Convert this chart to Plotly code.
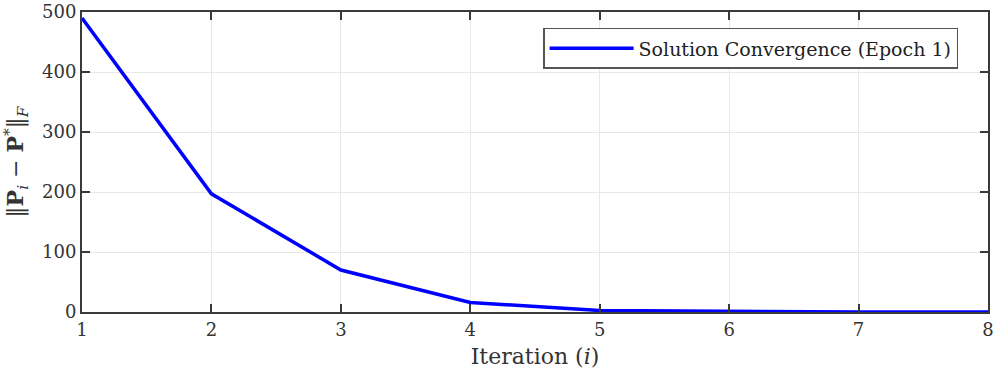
import plotly.graph_objs as go

# Iteration index and Frobenius-norm distance to the solution
iterations = [1, 2, 3, 4, 5, 6, 7, 8]
residual = [490, 197, 70, 16, 2.5, 0.6, 0.15, 0.03]
x_ticks = [1, 2, 3, 4, 5, 6, 7, 8]
y_ticks = [0, 100, 200, 300, 400, 500]

trace = go.Scatter(x=iterations, y=residual, mode='lines',
                   name='Solution Convergence (Epoch 1)',
                   line=dict(color='#0000ff', width=3.5))

axis_style = dict(showline=True, linecolor='#3a3a3a', linewidth=2, mirror='ticks',
                  ticks='inside', ticklen=8, tickwidth=1.5, tickcolor='#3a3a3a',
                  showgrid=True, gridcolor='#e8e8e8', gridwidth=1,
                  zeroline=False, automargin=False,
                  tickfont=dict(size=18, color='#333333'))

layout = go.Layout(
    width=996, height=384,
    paper_bgcolor='white', plot_bgcolor='white',
    font=dict(family='DejaVu Serif, Liberation Serif, serif', color='#333333'),
    margin=dict(l=82, r=8, t=12, b=72),
    xaxis=dict(range=[1, 8], tickvals=x_ticks,
               title=dict(text='Iteration (<i>i</i>)', font=dict(size=22), standoff=10),
               **axis_style),
    yaxis=dict(range=[0, 500], tickvals=y_ticks,
               title=dict(text='‖<b>P</b><sub><i>i</i></sub> − <b>P</b><sup>*</sup>‖<sub><i>F</i></sub>',
                          font=dict(size=22), standoff=12),
               **axis_style),
    legend=dict(x=0.967, y=0.947, xanchor='right', yanchor='top',
                bgcolor='white', bordercolor='#555555', borderwidth=1.5,
                itemwidth=84,
                font=dict(size=19, color='#222222')),
    showlegend=True,
)

fig = go.Figure(data=[trace], layout=layout)
# drop the default page margin so the figure fills the window exactly
fig.write_html("out.html", config={'displayModeBar': False},
               post_script="document.body.style.margin='0';")
